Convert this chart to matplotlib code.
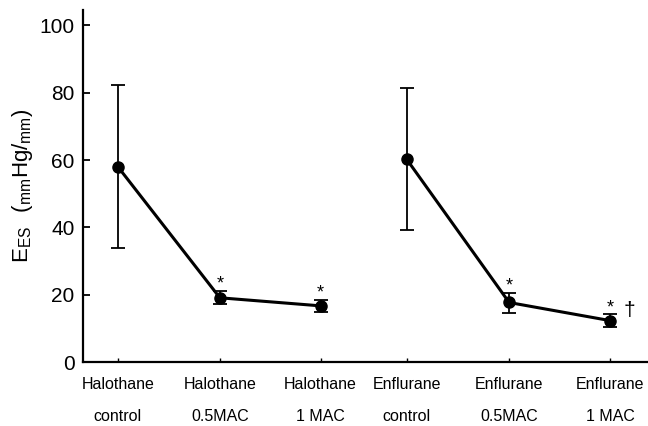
import matplotlib.pyplot as plt

plt.rcParams["font.family"] = ["Liberation Sans", "DejaVu Sans"]
plt.rcParams["mathtext.fontset"] = "custom"
plt.rcParams["mathtext.rm"] = "Liberation Sans"

groups = ["Halothane\ncontrol", "Halothane\n0.5MAC", "Halothane\n1 MAC",
          "Enflurane\ncontrol", "Enflurane\n0.5MAC", "Enflurane\n1 MAC"]
ees_mean = [58, 19.1, 16.7, 60.2, 17.7, 12.3]
err_low = [24, 1.9, 1.8, 21, 3.1, 1.9]
err_high = [24.2, 2.1, 1.8, 21.2, 2.9, 1.9]
stars = [False, True, True, False, True, True]
dagger = [False, False, False, False, False, True]

# uneven spacing as in the original figure
xpos = [0, 1.006, 2.0, 2.85, 3.86, 4.86]

fig = plt.figure(figsize=(6.48, 4.26), dpi=100)
ax = fig.add_axes([0.128, 0.150, 0.872, 0.826])

for seg in (slice(0, 3), slice(3, 6)):
    ax.errorbar(xpos[seg], ees_mean[seg],
                yerr=[err_low[seg], err_high[seg]],
                fmt="-o", color="black", lw=2.2, ms=8,
                elinewidth=1.3, capsize=5, capthick=1.3)

for x, y, hi, s, d in zip(xpos, ees_mean, err_high, stars, dagger):
    if s:
        ax.text(x, y + hi + 0.6, "*", ha="center", va="baseline", fontsize=13)
    if d:
        ax.text(x + 0.19, y + hi - 0.6, "†", ha="center", va="baseline", fontsize=15)

ax.set_xlim(-0.345, 5.23)
ax.set_ylim(0, 104.5)
ax.set_yticks([0, 20, 40, 60, 80, 100])
ax.set_xticks(xpos)
ax.set_xticklabels(groups, fontsize=11.5, linespacing=2.35)
ax.tick_params(axis="y", direction="in", length=5, width=1.3, labelsize=15, pad=6)
ax.tick_params(axis="x", direction="in", length=3, width=1, pad=11)

for side in ("top", "right"):
    ax.spines[side].set_visible(False)
ax.spines["left"].set_linewidth(1.6)
ax.spines["bottom"].set_linewidth(1.6)

ax.set_ylabel(r"$\mathrm{E}_{\mathrm{ES}}\ \ (_{\mathrm{mm}}\mathrm{Hg}/_{\mathrm{mm}})$",
              fontsize=16)
ax.yaxis.set_label_coords(-0.085, 0.5)

fig.savefig("out.png", dpi=100)
